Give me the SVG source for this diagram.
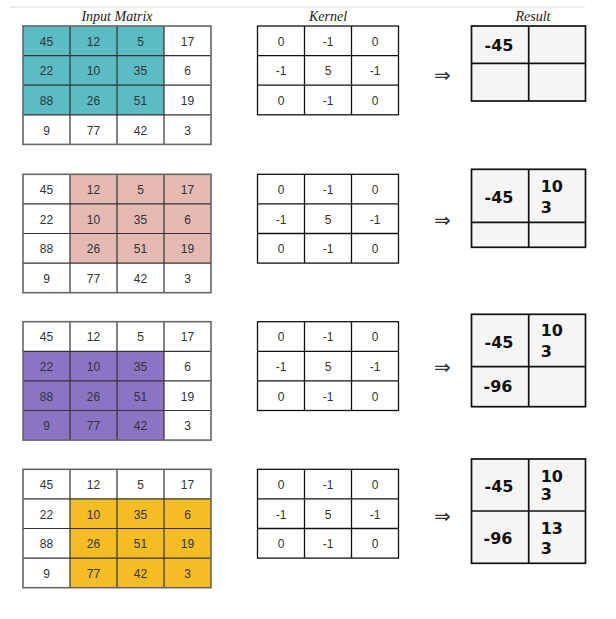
<svg xmlns="http://www.w3.org/2000/svg" width="616" height="619" viewBox="0 0 616 619">
<style>
.bg{fill:#ffffff}
.title{font-family:"Liberation Serif",serif;font-style:italic;font-size:14px;fill:#222;text-anchor:middle}
.cell{font-family:"Liberation Sans",Arial,sans-serif;font-size:12px;fill:#333;text-anchor:middle}
.grid{fill:none;stroke:#333;stroke-width:1.2}
.outer{fill:none;stroke:#666;stroke-width:1.6}
.kgrid{fill:none;stroke:#111;stroke-width:1.3}
.rbox{fill:#f5f5f5;stroke:#111;stroke-width:1.7}
.rline{stroke:#111;stroke-width:1.7}
.res{font-family:"DejaVu Sans",sans-serif;font-weight:bold;font-size:16px;fill:#111}
.mid{text-anchor:middle}
.arrow{font-family:"DejaVu Sans",sans-serif;font-size:20px;fill:#333;text-anchor:middle}
.teal{fill:#5bbcc6}
.pink{fill:#e4bab2}
.purple{fill:#8b74c4}
.yellow{fill:#f5bd25}
</style>
<defs>
<g id="mgrid">
<path class="grid" d="M70 0V118.4M117 0V118.4M164 0V118.4M23 29.6H211M23 59.2H211M23 88.8H211"/>
<rect class="outer" x="23" y="0" width="188" height="118.4"/>
</g>
<g id="mtext">
<text class="cell" x="46.5" y="19.8">45</text><text class="cell" x="93.5" y="19.8">12</text><text class="cell" x="140.5" y="19.8">5</text><text class="cell" x="187.5" y="19.8">17</text>
<text class="cell" x="46.5" y="49.4">22</text><text class="cell" x="93.5" y="49.4">10</text><text class="cell" x="140.5" y="49.4">35</text><text class="cell" x="187.5" y="49.4">6</text>
<text class="cell" x="46.5" y="79">88</text><text class="cell" x="93.5" y="79">26</text><text class="cell" x="140.5" y="79">51</text><text class="cell" x="187.5" y="79">19</text>
<text class="cell" x="46.5" y="108.6">9</text><text class="cell" x="93.5" y="108.6">77</text><text class="cell" x="140.5" y="108.6">42</text><text class="cell" x="187.5" y="108.6">3</text>
</g>
<g id="kernel">
<rect x="257.5" y="0" width="141" height="88.8" fill="#fff"/>
<path class="kgrid" d="M304.5 0V88.8M351.5 0V88.8M257.5 29.6H398.5M257.5 59.2H398.5"/>
<rect class="kgrid" x="257.5" y="0" width="141" height="88.8"/>
<text class="cell" x="281" y="19.8">0</text><text class="cell" x="328" y="19.8">-1</text><text class="cell" x="375" y="19.8">0</text>
<text class="cell" x="281" y="49.4">-1</text><text class="cell" x="328" y="49.4">5</text><text class="cell" x="375" y="49.4">-1</text>
<text class="cell" x="281" y="79">0</text><text class="cell" x="328" y="79">-1</text><text class="cell" x="375" y="79">0</text>
</g>
</defs>
<rect class="bg" x="0" y="0" width="616" height="619"/>
<line x1="10" y1="7" x2="585" y2="7" stroke="#dddddd" stroke-width="1"/>
<g id="titles">
<text class="title" x="117" y="21">Input Matrix</text>
<text class="title" x="328" y="21">Kernel</text>
<text class="title" x="533" y="21">Result</text>
</g>
<g id="step1">
<g id="input1" transform="translate(0,26)">
<rect class="teal" x="23" y="0" width="141" height="88.8"/>
<use href="#mgrid"/><use href="#mtext"/>
</g>
<g id="kernel1" transform="translate(0,26)"><use href="#kernel"/></g>
<g id="result1">
<rect class="rbox" x="471.5" y="26" width="114" height="75"/>
<line class="rline" x1="528.7" y1="26" x2="528.7" y2="101"/>
<line class="rline" x1="471.5" y1="63.3" x2="585.5" y2="63.3"/>
<text class="res mid" x="499" y="50.8">-45</text>
</g>
</g>
<g id="step2">
<g id="input2" transform="translate(0,174.3)">
<rect class="pink" x="70" y="0" width="141" height="88.8"/>
<use href="#mgrid"/><use href="#mtext"/>
</g>
<g id="kernel2" transform="translate(0,174.3)"><use href="#kernel"/></g>
<g id="result2">
<rect class="rbox" x="471.5" y="169.3" width="114" height="78"/>
<line class="rline" x1="528.7" y1="169.3" x2="528.7" y2="247.3"/>
<line class="rline" x1="471.5" y1="222.3" x2="585.5" y2="222.3"/>
<text class="res mid" x="499" y="202.5">-45</text>
<text class="res" x="540.7" y="191.8">10</text>
<text class="res" x="540.7" y="212.5">3</text>
</g>
</g>
<g id="step3">
<g id="input3" transform="translate(0,321.7)">
<rect class="purple" x="23" y="29.6" width="141" height="88.8"/>
<use href="#mgrid"/><use href="#mtext"/>
</g>
<g id="kernel3" transform="translate(0,321.7)"><use href="#kernel"/></g>
<g id="result3">
<rect class="rbox" x="471.5" y="314.3" width="114" height="92.4"/>
<line class="rline" x1="528.7" y1="314.3" x2="528.7" y2="406.7"/>
<line class="rline" x1="471.5" y1="366.7" x2="585.5" y2="366.7"/>
<text class="res mid" x="499" y="347.5">-45</text>
<text class="res" x="540.7" y="335.8">10</text>
<text class="res" x="540.7" y="356.8">3</text>
<text class="res mid" x="498" y="391.8">-96</text>
</g>
</g>
<g id="step4">
<g id="input4" transform="translate(0,469.3)">
<rect class="yellow" x="70" y="29.6" width="141" height="88.8"/>
<use href="#mgrid"/><use href="#mtext"/>
</g>
<g id="kernel4" transform="translate(0,469.3)"><use href="#kernel"/></g>
<g id="result4">
<rect class="rbox" x="471.5" y="459" width="114" height="104.3"/>
<line class="rline" x1="528.7" y1="459" x2="528.7" y2="563.3"/>
<line class="rline" x1="471.5" y1="511" x2="585.5" y2="511"/>
<text class="res mid" x="499" y="491.8">-45</text>
<text class="res" x="540.7" y="481.8">10</text>
<text class="res" x="540.7" y="500.1">3</text>
<text class="res mid" x="498" y="543.5">-96</text>
<text class="res" x="540.7" y="534.1">13</text>
<text class="res" x="540.7" y="553.5">3</text>
</g>
</g>
<g id="connectors">
<text class="arrow" x="442.5" y="82">⇒</text>
<text class="arrow" x="442.5" y="226.7">⇒</text>
<text class="arrow" x="442.5" y="374">⇒</text>
<text class="arrow" x="442.5" y="522.7">⇒</text>
</g>
</svg>
